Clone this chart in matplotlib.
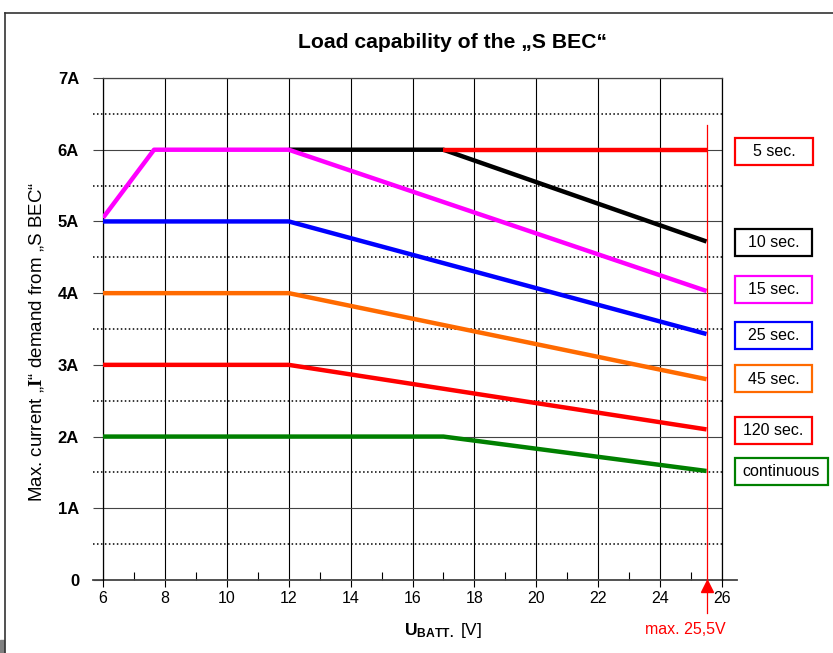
import matplotlib
matplotlib.use('Agg')
import matplotlib.pyplot as plt
from matplotlib.patches import Rectangle
from matplotlib.lines import Line2D

plt.rcParams['font.family'] = ['Liberation Sans', 'DejaVu Sans']
plt.rcParams['mathtext.fontset'] = 'custom'
plt.rcParams['mathtext.rm'] = 'Liberation Sans'
plt.rcParams['mathtext.bf'] = 'Liberation Sans:bold'
plt.rcParams['mathtext.tt'] = 'Liberation Serif:bold'

# battery voltage [V] / max current [A] for each duration curve
v_5s = [17, 25.5]
i_5s = [6, 6]
v_10s = [12, 17, 25.5]
i_10s = [6, 6, 4.72]
v_15s = [6, 7.65, 12, 25.5]
i_15s = [5.05, 6, 6, 4.03]
v_25s = [6, 12, 25.5]
i_25s = [5, 5, 3.43]
v_45s = [6, 12, 25.5]
i_45s = [4, 4, 2.8]
v_120s = [6, 12, 25.5]
i_120s = [3, 3, 2.1]
v_cont = [6, 17, 25.5]
i_cont = [2, 2, 1.52]

labels = ['5 sec.', '10 sec.', '15 sec.', '25 sec.', '45 sec.', '120 sec.', 'continuous']
colors = ['#ff0000', '#000000', '#ff00ff', '#0000ff', '#ff6a00', '#ff0000', '#008000']
series = [(v_10s, i_10s), (v_5s, i_5s), (v_15s, i_15s), (v_25s, i_25s),
          (v_45s, i_45s), (v_120s, i_120s), (v_cont, i_cont)]
series_colors = ['#000000', '#ff0000', '#ff00ff', '#0000ff', '#ff6a00', '#ff0000', '#008000']

x_ticks = list(range(6, 27, 2))
y_ticks = list(range(0, 8))
y_ticklabels = ['0', '1A', '2A', '3A', '4A', '5A', '6A', '7A']
u_max = 25.5

W, H = 833, 653
fig = plt.figure(figsize=(W / 100, H / 100), dpi=100)
ax = fig.add_axes([103 / W, 1 - 580 / H, 619 / W, 502 / H])

ax.set_xlim(6, 26)
ax.set_ylim(0, 7)

# grid
ax.set_xticks(x_ticks)
ax.set_xticks(range(7, 26, 2), minor=True)
ax.set_yticks(y_ticks)
ax.set_yticklabels(y_ticklabels, fontweight='bold', fontsize=12)
ax.tick_params(axis='x', which='major', direction='out', length=5, width=0.8, pad=3, labelsize=11.5)
ax.tick_params(axis='x', which='minor', direction='in', length=6, width=0.8)
ax.tick_params(axis='y', which='major', direction='out', length=7.2, width=0.8,
               color='#444444', pad=10)
ax.grid(axis='x', color='black', lw=0.8)
ax.grid(axis='y', color='#444444', lw=0.8)
ax.hlines([k + 0.5 for k in range(7)], 5.68, 26, colors='black', lw=1.1,
          linestyles=(0, (1, 1.6)), clip_on=False, zorder=1)
for s in ['left', 'right', 'top']:
    ax.spines[s].set_linewidth(0.9)
ax.spines['top'].set_color('#444444')
ax.spines['bottom'].set_visible(False)
ax.plot([5.68, 26.48], [0, 0], color='#444444', lw=1.3, clip_on=False, zorder=2)

# curves
for (v, i), c in zip(series, series_colors):
    ax.plot(v, i, color=c, lw=3.2, solid_capstyle='butt', solid_joinstyle='round', zorder=3)

# max voltage marker
ax.plot([u_max, u_max], [6.35, -0.46], color='red', lw=0.9, clip_on=False, zorder=4)
ax.plot([u_max], [-0.09], marker='^', color='red', ms=8, clip_on=False, zorder=4)
fig.text(685 / W, 1 - 630 / H, 'max. 25,5V', color='red', fontsize=11.5, ha='center', va='center')

# legend boxes
box_y = [151.5, 242.5, 289.5, 335.5, 379, 430.5, 471]
box_w = [78, 77, 77, 77, 77, 77, 93]
for lab, c, yc, bw in zip(labels, colors, box_y, box_w):
    x0 = 735
    fig.patches.append(Rectangle((x0 / W, 1 - (yc + 13.5) / H), bw / W, 27 / H,
                                 transform=fig.transFigure, fill=False, ec=c, lw=1.6))
    fig.text((x0 + bw / 2) / W, 1 - yc / H, lab, fontsize=11.5, ha='center', va='center')

# titles
fig.text(452 / W, 1 - 43 / H, 'Load capability of the „S BEC“', fontsize=15.2,
         fontweight='bold', ha='center', va='center')
fig.text(443 / W, 1 - 630 / H, r'$\mathbf{U_{BATT.}}$ [V]', fontsize=12.5, ha='center', va='center')
fig.text(37 / W, 1 - 342 / H, r'Max. current „$\mathtt{I}$“ demand from „S BEC“', fontsize=13.5,
         rotation=90, ha='center', va='center')

# outer frame
fig.add_artist(Line2D([5 / W, 1], [1 - 13 / H, 1 - 13 / H], transform=fig.transFigure,
                      color='#333333', lw=1.2))
fig.add_artist(Line2D([5 / W, 5 / W], [0, 1 - 13 / H], transform=fig.transFigure,
                      color='#333333', lw=1.2))
fig.patches.append(Rectangle((0, 0), 4 / W, 13 / H, transform=fig.transFigure,
                             color='#808080'))

fig.savefig('out.png', dpi=100)
